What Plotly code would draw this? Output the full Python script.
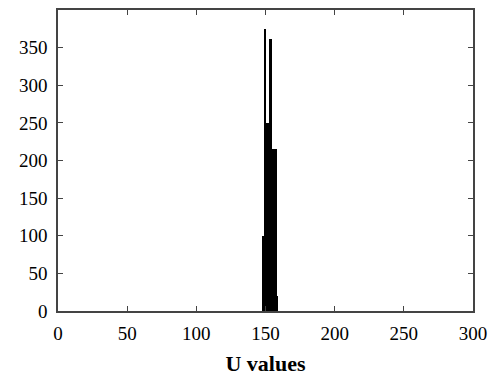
import plotly.graph_objects as go

# Histogram bins (left edges, right edges) and counts
bin_left = [147.7, 149.2, 150.7, 152.8, 155.0, 158.3]
bin_right = [149.2, 150.7, 152.8, 155.0, 158.3, 158.9]
counts = [100, 375, 250, 362, 215, 20]

x_ticks = [0, 50, 100, 150, 200, 250, 300]
y_ticks = [0, 50, 100, 150, 200, 250, 300, 350]

centers = [(a + b) / 2 for a, b in zip(bin_left, bin_right)]
widths = [b - a for a, b in zip(bin_left, bin_right)]

fig = go.Figure(go.Bar(
    x=centers, y=counts, width=widths,
    marker=dict(color="black", line=dict(width=0)),
))

font = dict(family="Liberation Serif, Times New Roman, serif", color="black")
axis_common = dict(
    showline=True, linecolor="#444", linewidth=1.5, mirror="ticks",
    ticks="inside", ticklen=5, tickcolor="#444", tickwidth=1.2,
    showgrid=False, zeroline=False, automargin=False,
    tickfont=dict(size=19, **font),
)
fig.update_layout(
    width=493, height=376,
    margin=dict(l=58, r=20, t=10, b=65),
    paper_bgcolor="white", plot_bgcolor="white",
    bargap=0, showlegend=False,
    xaxis=dict(range=[0, 300], tickvals=x_ticks, ticklabelstandoff=4,
               title=dict(text="<b>U values</b>", font=dict(size=22, **font), standoff=14),
               **axis_common),
    yaxis=dict(range=[0, 400], tickvals=y_ticks, ticklabelstandoff=5, **axis_common),
)
fig.write_html(
    "out.html",
    config={"displayModeBar": False},
    post_script="document.body.style.margin='0';document.body.style.overflow='hidden';",
)
